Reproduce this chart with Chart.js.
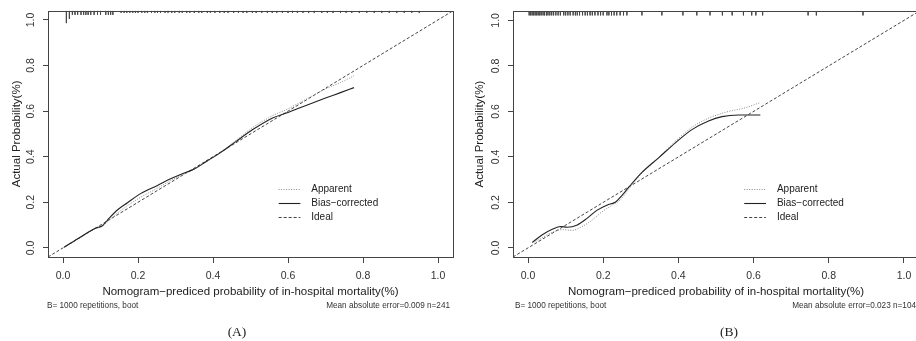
<!DOCTYPE html>
<html>
<head>
<meta charset="utf-8">
<script src="https://cdn.jsdelivr.net/npm/chart.js@4.4.1/dist/chart.umd.min.js"></script>
<style>
  html, body { margin: 0; padding: 0; background: #fff; overflow: hidden; width: 916px; height: 341px; }
  .panel { position: absolute; top: 0; height: 341px; }
  .note { position: absolute; top: 301px; font: 8.2px "Liberation Sans", Arial, sans-serif; color: #333; white-space: nowrap; }
  .lab { position: absolute; top: 324px; font: 13.5px "Liberation Serif", "Times New Roman", serif; color: #222; transform: translateX(-50%); }
</style>
</head>
<body>
<div class="panel" style="left:0;width:460px"><canvas id="chartA"></canvas></div>
<div class="panel" style="left:456px;width:470px"><canvas id="chartB"></canvas></div>

<div class="note" style="left:47px">B= 1000 repetitions, boot</div>
<div class="note" style="right:466px">Mean absolute error=0.009 n=241</div>
<div class="note" style="left:515px">B= 1000 repetitions, boot</div>
<div class="note" style="right:0">Mean absolute error=0.023 n=104</div>
<div class="lab" style="left:237px">(A)</div>
<div class="lab" style="left:729px">(B)</div>

<script>
'use strict';

const axisMin = -0.04;
const axisMax = 1.04;
const xTicks = [0, 0.2, 0.4, 0.6, 0.8, 1.0];
const yTicks = [0, 0.2, 0.4, 0.6, 0.8, 1.0];
const idealX = [-0.04, 1.04];
const idealY = [-0.04, 1.04];
const legendLabels = ['Apparent', 'Bias\u2212corrected', 'Ideal'];

const xTitle = 'Nomogram\u2212prediced probability of in-hospital mortality(%)';
const yTitle = 'Actual Probability(%)';

// panel A
const apparentAX = [0.003, 0.047, 0.088, 0.105, 0.123, 0.145, 0.172, 0.207, 0.252, 0.287, 0.314, 0.35, 0.385, 0.42, 0.46, 0.506, 0.559, 0.6, 0.648, 0.7, 0.74, 0.776];
const apparentAY = [0.003, 0.046, 0.085, 0.095, 0.122, 0.152, 0.185, 0.222, 0.262, 0.295, 0.318, 0.345, 0.38, 0.418, 0.47, 0.528, 0.58, 0.61, 0.652, 0.697, 0.725, 0.755];
const biasAX = [0.003, 0.047, 0.088, 0.105, 0.123, 0.145, 0.172, 0.207, 0.252, 0.287, 0.314, 0.35, 0.385, 0.42, 0.46, 0.506, 0.559, 0.6, 0.648, 0.7, 0.74, 0.776];
const biasAY = [0.003, 0.048, 0.087, 0.097, 0.13, 0.166, 0.198, 0.238, 0.274, 0.303, 0.322, 0.346, 0.382, 0.418, 0.465, 0.519, 0.57, 0.594, 0.625, 0.657, 0.681, 0.703];
const rugAX = [0.009, 0.017, 0.025, 0.032, 0.039, 0.048, 0.055, 0.061, 0.067, 0.074, 0.083, 0.092, 0.1, 0.114, 0.121, 0.127, 0.133,
  0.155, 0.163, 0.17, 0.178, 0.186, 0.193, 0.2, 0.21, 0.218, 0.225, 0.236, 0.245, 0.252, 0.26, 0.272, 0.28, 0.29, 0.298,
  0.31, 0.318, 0.33, 0.338, 0.35, 0.362, 0.37, 0.385, 0.393, 0.405, 0.418, 0.43, 0.44, 0.455, 0.468, 0.48, 0.49, 0.505,
  0.515, 0.53, 0.545, 0.558, 0.57, 0.585, 0.6, 0.612, 0.625, 0.64, 0.655, 0.67, 0.69, 0.705, 0.72, 0.74, 0.755, 0.77,
  0.79, 0.81, 0.83, 0.85, 0.87, 0.89, 0.91, 0.93, 0.95];
const rugAFreq = [6, 4, 2, 2, 2, 2, 2, 2, 2, 2, 2, 2, 2, 2, 2, 2, 2];   // the rest are 1

// panel B
const apparentBX = [0.02, 0.064, 0.091, 0.117, 0.144, 0.171, 0.197, 0.224, 0.246, 0.268, 0.303, 0.348, 0.392, 0.436, 0.48, 0.525, 0.578, 0.618];
const apparentBY = [0.028, 0.068, 0.08, 0.077, 0.094, 0.123, 0.159, 0.188, 0.212, 0.259, 0.329, 0.397, 0.469, 0.53, 0.57, 0.596, 0.616, 0.639];
const biasBX = [0.0114, 0.038, 0.0645, 0.087, 0.104, 0.131, 0.157, 0.184, 0.21, 0.233, 0.25, 0.268, 0.303, 0.348, 0.392, 0.436, 0.48, 0.516, 0.56, 0.618];
const biasBY = [0.024, 0.058, 0.082, 0.094, 0.091, 0.101, 0.13, 0.166, 0.188, 0.202, 0.231, 0.267, 0.332, 0.397, 0.462, 0.52, 0.558, 0.577, 0.584, 0.584];
const rugBX = [0.003, 0.007, 0.011, 0.015, 0.019, 0.023, 0.027, 0.031, 0.035, 0.04, 0.044, 0.049, 0.053, 0.058, 0.063, 0.068,
  0.074, 0.08, 0.086, 0.095, 0.1, 0.106, 0.112, 0.12, 0.126, 0.131, 0.137, 0.145, 0.152, 0.158, 0.165,
  0.171, 0.178, 0.186, 0.193, 0.2, 0.21, 0.215, 0.222, 0.229, 0.236, 0.245, 0.254, 0.263,
  0.303, 0.356, 0.412, 0.449, 0.484, 0.517, 0.543, 0.573, 0.595, 0.606, 0.624, 0.745, 0.767, 0.891];
const rugBFreq = [];   // all 2

const FONT = '"Liberation Sans", Arial, Helvetica, sans-serif';
const rugUnit = 0.009;

function toPoints(xs, ys) {
  return xs.map((x, i) => ({x: x, y: ys[i]}));
}

function rugPoints(xs, freq, defFreq) {
  const pts = [];
  for (let i = 0; i < xs.length; i++) {
    const f = freq[i] !== undefined ? freq[i] : defFreq;
    pts.push({x: xs[i], y: axisMax});
    pts.push({x: xs[i], y: axisMax - f * rugUnit});
    pts.push({x: xs[i], y: null});
  }
  return pts;
}

const boxPlugin = {
  id: 'box',
  afterDraw(chart) {
    const a = chart.chartArea;
    const ctx = chart.ctx;
    ctx.save();
    ctx.strokeStyle = '#444';
    ctx.lineWidth = 1;
    ctx.strokeRect(Math.round(a.left) + 0.5, Math.round(a.top) + 0.5, Math.round(a.right - a.left), Math.round(a.bottom - a.top));
    ctx.restore();
  }
};

// R-style legend drawn inside the plot, anchored in data units
const rLegend = {
  id: 'rLegend',
  afterDatasetsDraw(chart) {
    const xs = chart.scales.x;
    const ys = chart.scales.y;
    const ctx = chart.ctx;
    const rows = [0.26, 0.197, 0.135];
    ctx.save();
    ctx.font = '10px ' + FONT;
    ctx.textBaseline = 'middle';
    legendLabels.forEach((lab, i) => {
      const ds = chart.data.datasets.find(d => d.label === lab);
      const py = Math.round(ys.getPixelForValue(rows[i])) + 0.5;
      ctx.strokeStyle = ds.borderColor;
      ctx.lineWidth = ds.borderWidth;
      ctx.setLineDash(ds.borderDash || []);
      ctx.beginPath();
      ctx.moveTo(xs.getPixelForValue(0.575), py);
      ctx.lineTo(xs.getPixelForValue(0.633), py);
      ctx.stroke();
      ctx.setLineDash([]);
      ctx.fillStyle = '#222';
      ctx.fillText(lab, xs.getPixelForValue(0.662), py);
    });
    ctx.restore();
  }
};

function buildChart(id, c) {
  const ctx = document.getElementById(id).getContext('2d');
  return new Chart(ctx, {
    type: 'scatter',
    data: {
      datasets: [
        {
          label: legendLabels[1],
          data: toPoints(c.biasX, c.biasY),
          showLine: true,
          borderColor: '#222',
          borderWidth: 1.1,
          cubicInterpolationMode: 'monotone',
          pointRadius: 0
        },
        {
          label: legendLabels[0],
          data: toPoints(c.appX, c.appY),
          showLine: true,
          borderColor: '#888',
          borderWidth: 1,
          borderDash: [1, 1.5],
          cubicInterpolationMode: 'monotone',
          pointRadius: 0
        },
        {
          label: legendLabels[2],
          data: toPoints(idealX, idealY),
          showLine: true,
          borderColor: '#444',
          borderWidth: 1,
          borderDash: [3, 2],
          pointRadius: 0
        },
        {
          label: 'rug',
          data: rugPoints(c.rugX, c.rugFreq, c.rugDef),
          showLine: true,
          spanGaps: false,
          borderColor: '#444',
          borderWidth: 0.8,
          pointRadius: 0
        }
      ]
    },
    options: {
      responsive: true,
      maintainAspectRatio: false,
      animation: false,
      devicePixelRatio: 1,
      layout: {padding: {left: 0, top: 8, right: c.rightPad, bottom: 0}},
      plugins: {legend: {display: false}, tooltip: {enabled: false}},
      scales: {
        x: {
          type: 'linear',
          min: axisMin,
          max: axisMax,
          afterBuildTicks: s => { s.ticks = xTicks.map(v => ({value: v})); },
          afterFit: s => { s.height = 84; },
          grid: {display: true, drawOnChartArea: false, drawTicks: true, tickLength: 6, color: '#444'},
          border: {display: false},
          ticks: {color: '#333', font: {size: 10.5, family: FONT}, padding: 7, maxRotation: 0, autoSkip: false,
            callback: v => v.toFixed(1)},
          title: {display: true, text: xTitle, color: '#222', font: {size: 11.5, family: FONT}, padding: {top: 0, bottom: 42}}
        },
        y: {
          type: 'linear',
          min: axisMin,
          max: axisMax,
          afterBuildTicks: s => { s.ticks = yTicks.map(v => ({value: v})); },
          afterFit: s => { s.width = c.yWidth; },
          grid: {display: true, drawOnChartArea: false, drawTicks: true, tickLength: 5, color: '#444'},
          border: {display: false},
          ticks: {color: '#333', font: {size: 10.5, family: FONT}, padding: c.yTickPad, minRotation: 90, maxRotation: 90,
            crossAlign: 'center', autoSkip: false, callback: v => v.toFixed(1)},
          title: {display: true, text: yTitle, color: '#222', font: {size: 11.5, family: FONT}, padding: {top: c.yTitlePad, bottom: 0}}
        }
      }
    },
    plugins: [boxPlugin, rLegend]
  });
}

buildChart('chartA', {
  appX: apparentAX, appY: apparentAY, biasX: biasAX, biasY: biasAY,
  rugX: rugAX, rugFreq: rugAFreq, rugDef: 1,
  yWidth: 48, rightPad: 7, yTickPad: 4.5, yTitlePad: 10
});

buildChart('chartB', {
  appX: apparentBX, appY: apparentBY, biasX: biasBX, biasY: biasBY,
  rugX: rugBX, rugFreq: rugBFreq, rugDef: 2,
  yWidth: 57, rightPad: 7, yTickPad: 5, yTitlePad: 16.5
});
</script>
</body>
</html>
